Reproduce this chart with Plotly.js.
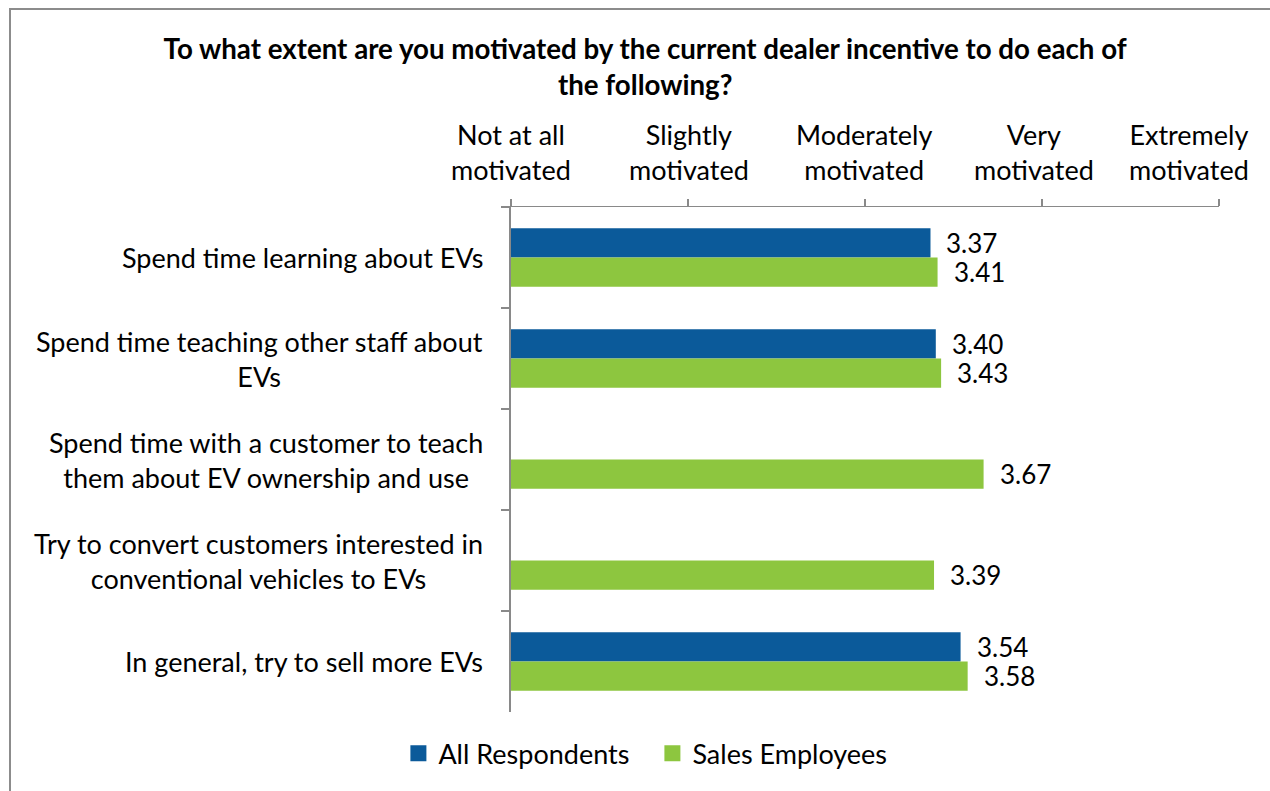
<!DOCTYPE html>
<html>
<head>
<meta charset="utf-8">
<script src="https://cdn.plot.ly/plotly-3.0.1.min.js"></script>
<style>html,body{margin:0;padding:0;background:#fff;}#chart{width:1270px;height:791px;}</style>
</head>
<body>
<div id="chart"></div>
<script>
const categories = [
  'Spend time learning about EVs',
  'Spend time teaching other staff about<br>EVs',
  'Spend time with a customer to teach<br>them about EV ownership and use',
  'Try to convert customers interested in<br>conventional vehicles to EVs',
  'In general, try to sell more EVs'
];
const allRespondents = [3.37, 3.40, null, null, 3.54];
const salesEmployees = [3.41, 3.43, 3.67, 3.39, 3.58];
const scaleValues = [1, 2, 3, 4, 5];
const scaleLabels = ['Not at all<br>motivated', 'Slightly<br>motivated', 'Moderately<br>motivated', 'Very<br>motivated', 'Extremely<br>motivated'];
const seriesNames = ['All Respondents', 'Sales Employees'];

const FONT = 'Lato, "Open Sans", sans-serif';
const BLUE = '#0B5A9A';
const GREEN = '#8DC63F';
const AXIS = '#898989';
const TXT = 27;

const colors = [BLUE, GREEN];
const seriesData = [allRespondents, salesEmployees];

const traces = [];
seriesData.forEach((arr, k) => {
  traces.push({type: 'bar', orientation: 'h', name: seriesNames[k], y: categories, x: arr,
    base: 0, marker: {color: colors[k]}, showlegend: false, legendgroup: 'g' + k, hoverinfo: 'x'});
});
// legend entries (square keys)
seriesData.forEach((arr, k) => {
  traces.push({type: 'scatter', mode: 'markers', name: seriesNames[k], x: [null], y: [null],
    marker: {symbol: 'square', size: 16, color: colors[k]}, legendgroup: 'g' + k, showlegend: true,
    hoverinfo: 'skip'});
});

const annotations = [];
// category labels
categories.forEach((c, i) => {
  annotations.push({xref: 'paper', yref: 'y', x: 0, y: i, text: c, showarrow: false,
    xanchor: 'right', yanchor: 'middle', xshift: -26, align: 'center',
    font: {family: FONT, size: TXT, color: '#000'}});
});
// scale labels
const scaleShift = [0, 1, -1, -8, -30];
scaleLabels.forEach((s, i) => {
  annotations.push({xref: 'x', yref: 'paper', x: scaleValues[i], y: 1, text: s, showarrow: false,
    xanchor: 'center', yanchor: 'bottom', yshift: 19, xshift: scaleShift[i], align: 'center',
    font: {family: FONT, size: TXT, color: '#000'}});
});
// value labels
seriesData.forEach((arr, k) => {
  const off = k === 0 ? -0.145 : 0.145;
  arr.forEach((v, i) => {
    if (v == null) return;
    annotations.push({xref: 'x', yref: 'y', x: v, y: i + off, text: v.toFixed(2), showarrow: false,
      xanchor: 'left', yanchor: 'middle', xshift: 14,
      font: {family: FONT, size: 26, color: '#000'}});
  });
});

const layout = {
  width: 1270, height: 791,
  paper_bgcolor: '#fff', plot_bgcolor: '#fff',
  margin: {l: 511, r: 51, t: 207, b: 79},
  title: {text: '<b>To what extent are you motivated by the current dealer incentive to do each of<br>the following?</b>',
    xref: 'container', x: 0.508, xanchor: 'center', yref: 'container', y: 0.926, yanchor: 'top',
    font: {family: FONT, size: 27.7, color: '#000'}},
  barmode: 'group', bargap: 0.42, bargroupgap: 0,
  showlegend: true,
  legend: {orientation: 'h', xref: 'container', yref: 'container', x: 0.5137, xanchor: 'center',
    y: 0.047, yanchor: 'middle', font: {family: FONT, size: TXT, color: '#000'},
    itemwidth: 30, tracegroupgap: 0, traceorder: 'normal', entrywidth: 209},
  xaxis: {side: 'top', range: [1, 5], tickvals: scaleValues, showticklabels: false,
    ticks: 'outside', ticklen: 7, tickcolor: AXIS, tickwidth: 1.5,
    showline: true, linecolor: AXIS, linewidth: 1.5, showgrid: false, zeroline: false, fixedrange: true},
  yaxis: {type: 'category', range: [4.5, -0.5], showticklabels: false,
    ticks: 'outside', tickson: 'boundaries', ticklen: 8, tickcolor: AXIS, tickwidth: 1.5,
    showline: true, linecolor: AXIS, linewidth: 2, showgrid: false, zeroline: false, fixedrange: true},
  annotations: annotations,
  shapes: [{type: 'rect', xref: 'paper', yref: 'paper',
    x0: (10 - 511) / 708, x1: (1290 - 511) / 708, y0: (712 - 810) / 505, y1: (712 - 9) / 505,
    line: {color: '#8C8C8C', width: 2}, fillcolor: 'rgba(0,0,0,0)', layer: 'below'}]
};

Plotly.newPlot('chart', traces, layout, {displayModeBar: false, staticPlot: true});
</script>
</body>
</html>
